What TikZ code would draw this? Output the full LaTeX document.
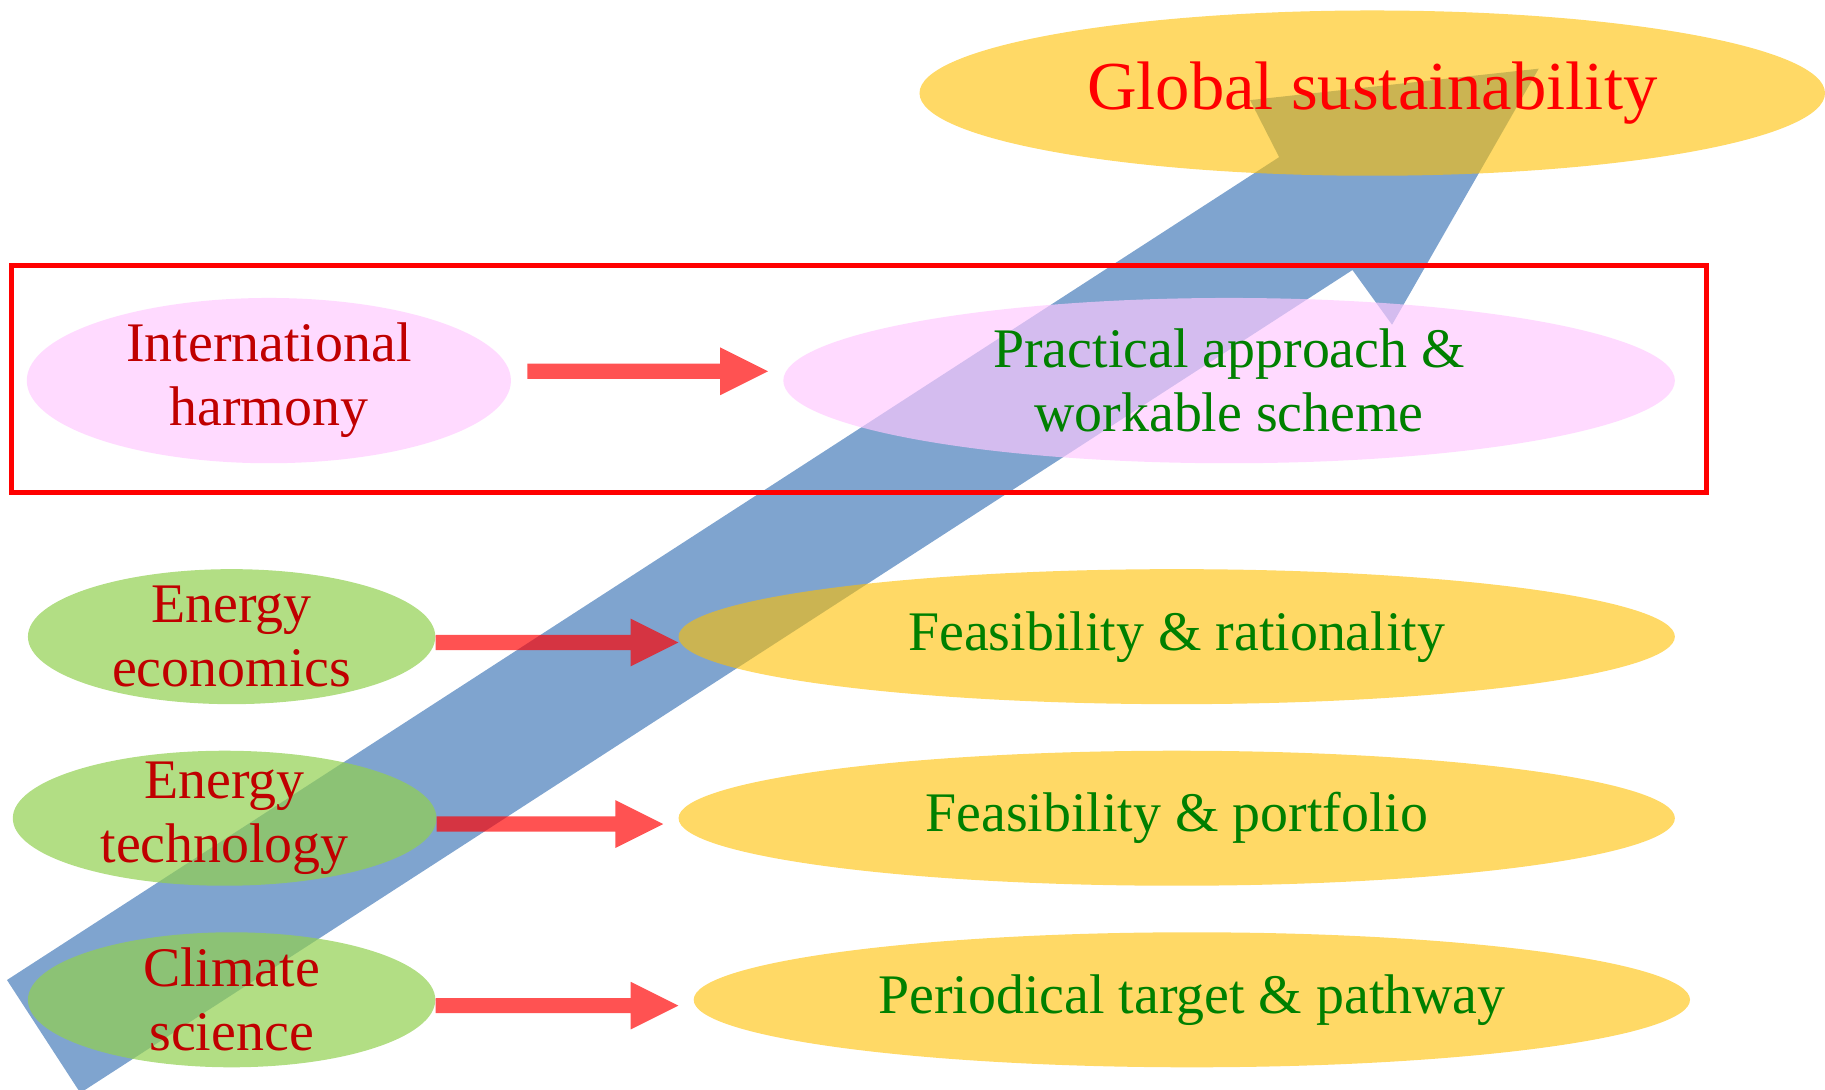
\documentclass[tikz,border=0pt]{standalone}
\usepackage{fontspec}
\setmainfont{Liberation Serif}
\usetikzlibrary{shapes.geometric,calc}

\definecolor{bandblue}{HTML}{7FA4CF}
\definecolor{goldfill}{HTML}{FFC000}
\definecolor{leaffill}{HTML}{92D050}
\definecolor{pinkfill}{HTML}{FFC8FF}
\definecolor{lefttext}{HTML}{C00000}
\definecolor{righttext}{HTML}{008000}

\begin{document}
\begin{tikzpicture}[x=1pt,y=-1pt]
		\useasboundingbox (0,0) rectangle (1568,936);
		\clip (0,0) rectangle (1568,936);
		\tikzset{blob/.style={ellipse,inner sep=0pt,inner ysep=-15pt,text opacity=1,align=center,font=\fontsize{48}{55}\selectfont}} %all ovals
		\tikzset{goal/.style={blob,fill=goldfill,fill opacity=0.6,text=righttext,minimum width=856pt,minimum height=116pt}}
		\tikzset{field/.style={blob,fill=leaffill,fill opacity=0.7,text=lefttext,minimum height=116pt}}
		\tikzset{pinkblob/.style={blob,fill=pinkfill,fill opacity=0.67,minimum height=142pt}}
		\tikzset{fatarrow/.style={fill=red,fill opacity=0.68,to path={let \p1=(\tikztostart), \p2=(\tikztotarget) in
			(\x1,\y1+6.5pt) -- (\x2-41pt,\y1+6.5pt) -- (\x2-41pt,\y1+20.5pt) -- (\x2,\y1) -- (\x2-41pt,\y1-20.5pt) -- (\x2-41pt,\y1-6.5pt) -- (\x1,\y1-6.5pt) -- cycle}}}
		% big rising arrow
		\coordinate (tailup) at (6,842);
		\coordinate (taildown) at (69,939);
		\coordinate (neckup) at (1099,135);
		\coordinate (neckdown) at (1162,232);
		\coordinate (barbup) at (1074,86);
		\coordinate (barbdown) at (1196,279);
		\coordinate (tip) at (1322,59);
		\fill[bandblue] (tailup) -- (neckup) -- (barbup) -- (tip) -- (barbdown) -- (neckdown) -- (taildown) -- cycle;
		% ovals
		\node[goal,minimum width=778pt,minimum height=142pt,text=red,font=\fontsize{59}{66}\selectfont] (global) at (1179,80) {Global sustainability};
		\node[pinkblob,minimum width=416pt,text=lefttext] (harmony) at (231,327) {International\\harmony};
		\node[pinkblob,minimum width=766pt,text=righttext] (practical) at (1056,327) {Practical approach \&\\workable scheme};
		\node[field,minimum width=350pt] (economics) at (199,547) {Energy\\economics};
		\node[field,minimum width=364pt] (technology) at (193,703) {Energy\\technology};
		\node[field,minimum width=350pt] (climate) at (199,859) {Climate\\science};
		\node[goal] (rationality) at (1011,547) {Feasibility \& rationality};
		\node[goal] (portfolio) at (1011,703) {Feasibility \& portfolio};
		\node[goal] (pathway) at (1024,859) {Periodical target \& pathway};
		% red arrows
		\path[fatarrow] ([shift={(14,-8)}]harmony.east) to ([xshift=-13]practical.west);
		\path[fatarrow] ([yshift=-5]economics.east) to (rationality.west);
		\path[fatarrow] ([yshift=-5]technology.east) to ([xshift=-13]portfolio.west);
		\path[fatarrow] ([yshift=-5]climate.east) to ([xshift=-13]pathway.west);
		\draw[red,line width=4.2pt] (10,228) rectangle (1466,423); %frame
	\end{tikzpicture}
\end{document}
